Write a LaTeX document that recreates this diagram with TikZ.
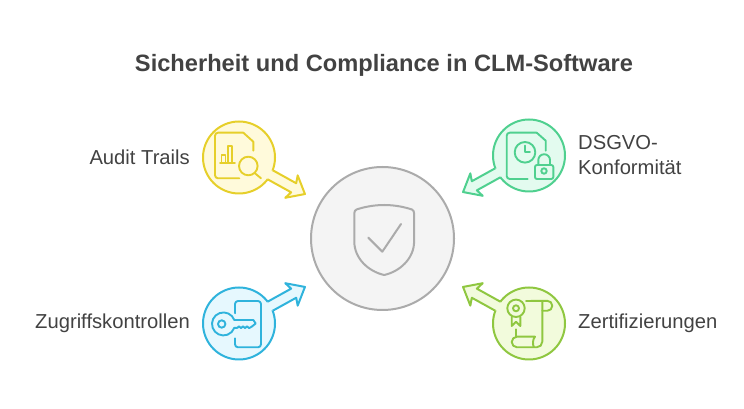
\documentclass[tikz,border=0pt]{standalone}
\usepackage{fontspec}
\setmainfont{Liberation Sans}
\usepackage{tikz}
\usetikzlibrary{positioning}

\definecolor{txtgray}{HTML}{424242}
\definecolor{hubline}{HTML}{ABABAB}
\definecolor{hubfill}{HTML}{F4F4F4}
\definecolor{auditline}{HTML}{E6CF2A}
\definecolor{auditfill}{HTML}{FFFADB}
\definecolor{dsgvoline}{HTML}{4FD08F}
\definecolor{dsgvofill}{HTML}{E3FBEF}
\definecolor{keyline}{HTML}{2FB3DC}
\definecolor{keyfill}{HTML}{E6F8FE}
\definecolor{certline}{HTML}{8FC740}
\definecolor{certfill}{HTML}{F2FBDC}

% block arrow: node, angle, line colour, fill colour
\newcommand{\blockarrow}[4]{
  \begin{scope}[shift=(#1.center),rotate=#2]
    \coordinate (#1 tip) at (75.4,0);
    \fill[#4] (30,0) -- (35.6,5.2) -- (62.5,5.2) -- (60,12.8) -- (#1 tip) -- (60,-12.8) -- (62.5,-5.2) -- (35.6,-5.2) -- cycle;
    \draw[#3,line width=2pt,line join=round] (35.6,5.2) -- (62.5,5.2) -- (60,12.8) -- (#1 tip) -- (60,-12.8) -- (62.5,-5.2) -- (35.6,-5.2);
  \end{scope}
}

\begin{document}
\begin{tikzpicture}[x=1pt,y=1pt,
    lbl/.style={text=txtgray,font=\fontsize{20.2}{25}\selectfont,inner sep=0pt},
    spoke/.style={circle,minimum size=72pt,inner sep=0pt,line width=2pt,draw},
    icon/.style={line width=1.9pt,line cap=round,line join=round}]
  \useasboundingbox (0,0) rectangle (744,409);

  \node[text=txtgray,font=\bfseries\fontsize{23.65}{28}\selectfont] (title) at (384,343.5) {Sicherheit und Compliance in CLM-Software};

  \node[circle,minimum size=143pt,inner sep=0pt,line width=2pt,draw=hubline,fill=hubfill] (hub) at (382.5,170.5) {};
  \node[spoke,draw=auditline,fill=auditfill] (audit) at (239,251.5) {};
  \node[spoke,draw=dsgvoline,fill=dsgvofill] (dsgvo) at (529,253.5) {};
  \node[spoke,draw=keyline,fill=keyfill] (zugriff) at (239,85.5) {};
  \node[spoke,draw=certline,fill=certfill] (zert) at (529,85.5) {};

  \blockarrow{audit}{-29}{auditline}{auditfill}
  \blockarrow{dsgvo}{209}{dsgvoline}{dsgvofill}
  \blockarrow{zugriff}{29}{keyline}{keyfill}
  \blockarrow{zert}{151}{certline}{certfill}

  \node[lbl,left=12pt of audit] (auditlbl) {Audit Trails};
  \node[lbl,right=12pt of dsgvo,align=left] (dsgvolbl) {DSGVO-\\Konformität};
  \node[lbl,left=12pt of zugriff] (zugrifflbl) {Zugriffskontrollen};
  \node[lbl,right=12pt of zert] (zertlbl) {Zertifizierungen};

  % shield
  \begin{scope}[shift=(hub.center)]
    \draw[hubline,line width=2pt,line join=round] (1.7,33.5) .. controls (-10,33.5) and (-20,31) .. (-26,29) .. controls (-27.5,28.4) and (-28.2,27) .. (-28.2,25) -- (-28.2,-3) .. controls (-28.2,-20) and (-14,-33) .. (1.7,-36.5) .. controls (17.4,-33) and (31.6,-20) .. (31.6,-3) -- (31.6,25) .. controls (31.6,27) and (30.9,28.4) .. (29.4,29) .. controls (23.4,31) and (13.4,33.5) .. (1.7,33.5) -- cycle;
    \draw[hubline,line width=2pt,line cap=round,line join=round] (-14.2,0.8) -- (-0.2,-13.2) -- (18.5,14.5);
  \end{scope}

  % document with magnifier
  \begin{scope}[shift=(audit.center),auditline,icon]
    \draw[rounded corners=3pt] (0.3,-20.8) -- (-24,-20.8) -- (-24,24.8) -- (4.3,24.8);
    \draw (4.3,24.8) -- (14.3,15.8) -- (14.3,6.8);
    \draw (9.3,-8.5) circle[radius=9.3];
    \draw (16,-15.8) -- (22,-20.8);
    \draw (-19,-5.2) -- (-4,-5.2);
    \draw (-17.5,-5.2) -- (-17.5,2.5) -- (-13.5,2.5) -- (-13.5,-5.2);
    \draw (-11,-5.2) -- (-11,11.5) -- (-7,11.5) -- (-7,-5.2);
  \end{scope}

  % document with clock and lock
  \begin{scope}[shift=(dsgvo.center),dsgvoline,icon]
    \draw[rounded corners=3pt] (-1.3,-23.5) -- (-22.3,-23.5) -- (-22.3,22.8) -- (7.7,22.8);
    \draw (7.7,22.8) -- (16.7,14.8) -- (16.7,4.8);
    \draw (-4,3.2) circle[radius=10.3];
    \draw (-4,9.8) -- (-4,3.2) -- (1,3.2);
    \draw[rounded corners=2pt] (6,-9.5) rectangle (24.3,-23.5);
    \draw (9.3,-9.5) -- (9.3,-4.6) arc[start angle=180,end angle=0,radius=5.85] -- (21,-9.5);
    \draw (15,-15.5) circle[radius=2.7];
  \end{scope}

  % key and door
  \begin{scope}[shift=(zugriff.center),keyline,icon]
    \draw[rounded corners=3pt] (-4,10.2) -- (-4,22.5) -- (22,22.5) -- (22,-23.8) -- (-4,-23.8) -- (-4,-14.8);
    \draw (-4.7,3.5) arc[start angle=20,end angle=340,radius=11.5] -- (-1.5,-4.3) -- (0,-2.8) -- (2,-4.6) -- (4,-2.8) -- (6,-4.6) -- (8,-2.8) -- (10,-4.6) -- (12.7,-3.2) -- (16.7,0) -- (14.3,3.5) -- cycle;
    \draw (-17.3,-0.5) circle[radius=3.7];
  \end{scope}

  % certificate scroll
  \begin{scope}[shift=(zert.center),certline,icon]
    \draw (-13,15.2) circle[radius=8.7];
    \draw (-13,15.2) circle[radius=3];
    \draw (-17.3,6.8) -- (-17.3,-2.5) -- (-13,1.8) -- (-8.7,-2.5) -- (-8.7,6.8);
    \draw (-13,-5.8) -- (-13,-13.2);
    \draw (-3,22.5) -- (18.3,22.7) arc[start angle=90,end angle=-90,radius=5] -- (13.3,12.7);
    \draw (13.3,21.8) -- (13.3,-18.2) arc[start angle=0,end angle=-90,radius=5.6] -- (-12,-23.8) arc[start angle=270,end angle=90,radius=5.3] -- (6,-13.2) .. controls (3.5,-16) and (3.5,-21) .. (5,-23.8);
  \end{scope}
\end{tikzpicture}
\end{document}
